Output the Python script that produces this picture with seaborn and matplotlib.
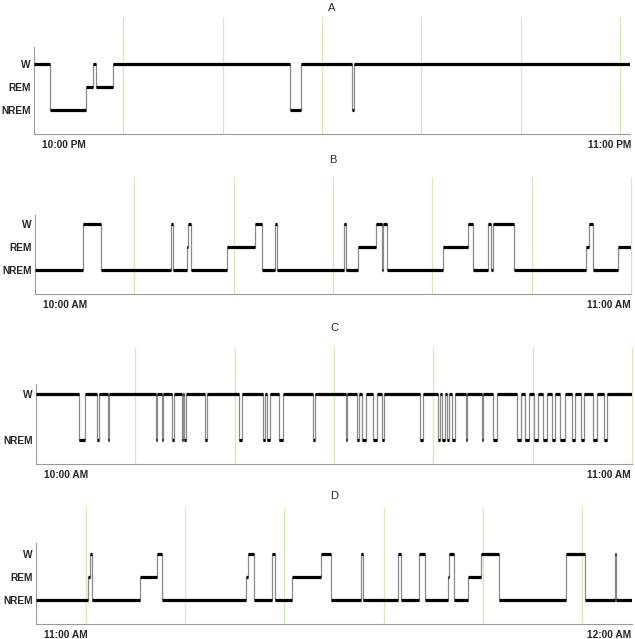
import numpy as np
import pandas as pd
import matplotlib
matplotlib.use("Agg")
import matplotlib.pyplot as plt
import seaborn as sns

# ============ DATA (minutes from panel start) ============
LEVEL = {"NREM": 0, "REM": 1, "W": 2}

a_times = [0, 1.61, 5.24, 5.94, 6.24, 7.96, 25.78, 26.89, 31.97, 32.17]
a_states = ["W", "NREM", "REM", "W", "REM", "W", "NREM", "W", "NREM", "W"]

b_times = [0, 4.86, 6.65, 13.67, 13.85, 15.28, 15.41, 15.68, 19.37, 22.16,
           22.83, 24.20, 24.37, 31.15, 31.27, 32.50, 34.31, 34.89, 35.02, 35.48,
           41.12, 43.58, 44.14, 45.65, 45.87, 46.15, 48.27, 55.46, 55.74, 56.16,
           58.68]
b_states = ["NREM", "W", "NREM", "W", "NREM", "REM", "W", "NREM", "REM", "W",
            "NREM", "W", "NREM", "W", "NREM", "REM", "W", "NREM", "W", "NREM",
            "REM", "W", "NREM", "W", "NREM", "W", "NREM", "REM", "W", "NREM",
            "REM"]

# panel C only switches between W and NREM: onset / offset of each NREM dip
c_dip_on = [4.33, 6.17, 7.28, 12.05, 12.66, 13.67, 14.67, 14.90, 17.02, 20.47,
            22.83, 23.23, 24.50, 27.87, 31.22, 32.30, 32.80, 33.97, 34.81, 38.67,
            40.51, 40.86, 41.36, 41.86, 43.30, 44.88, 46.05, 48.41, 49.24, 50.18,
            50.99, 51.93, 52.77, 53.95, 54.88, 56.12, 57.23]
c_dip_off = [4.93, 6.34, 7.38, 12.22, 12.82, 13.90, 14.80, 15.11, 17.19, 20.71,
             23.06, 23.57, 24.90, 28.10, 31.35, 32.56, 33.23, 34.31, 35.05, 39.00,
             40.68, 41.19, 41.59, 42.20, 43.43, 45.05, 46.39, 48.84, 49.65, 50.58,
             51.43, 52.27, 53.27, 54.28, 55.12, 56.46, 57.47]

d_times = [0, 5.27, 5.47, 5.59, 10.47, 12.15, 12.66, 21.12, 21.38, 21.98,
           23.74, 24.10, 25.78, 28.70, 29.71, 32.73, 32.93, 36.49, 36.71, 38.57,
           39.17, 41.52, 41.62, 42.07, 43.47, 44.81, 46.66, 53.34, 55.22, 58.31,
           58.41]
d_states = ["NREM", "REM", "W", "NREM", "REM", "W", "NREM", "REM", "W", "NREM",
            "W", "NREM", "REM", "W", "NREM", "W", "NREM", "W", "NREM", "W",
            "NREM", "REM", "W", "NREM", "REM", "W", "NREM", "W", "NREM", "W",
            "NREM"]

c_times = [0]
c_states = ["W"]
for on, off in zip(c_dip_on, c_dip_off):
    c_times += [on, off]
    c_states += ["NREM", "W"]

panel_titles = ["A", "B", "C", "D"]
start_labels = ["10:00 PM", "10:00 AM", "10:00 AM", "11:00 AM"]
end_labels = ["11:00 PM", "11:00 AM", "11:00 AM", "12:00 AM"]
grid_first = [9, 10, 10, 5]
tick_sets = [["NREM", "REM", "W"], ["NREM", "REM", "W"], ["NREM", "W"],
             ["NREM", "REM", "W"]]
panels = [(a_times, a_states), (b_times, b_states), (c_times, c_states),
          (d_times, d_states)]

# ============ LAYOUT (pixels) ============
W_PX, H_PX = 635, 639
ax_left = [34, 35, 36, 36]
ax_bottom = [134, 294, 464, 624]
ax_height = 117
ax_width = 596
spine_top = [2.75, 2.41, 2.46, 2.49]
title_y = [8, 160, 328, 496]
YLIM = (-1.04, 4.05)

sns.set_style("white")
plt.rcParams["font.family"] = ["Liberation Sans", "DejaVu Sans"]

fig = plt.figure(figsize=(W_PX / 100, H_PX / 100), dpi=100)

for i, (times, states) in enumerate(panels):
    ax = fig.add_axes([ax_left[i] / W_PX, 1 - ax_bottom[i] / H_PX,
                       ax_width / W_PX, ax_height / H_PX])
    df = pd.DataFrame({"t": list(times) + [60],
                       "level": [LEVEL[s] for s in states] + [LEVEL[states[-1]]]})

    # pale green 10-minute markers
    ax.vlines(np.arange(grid_first[i], 60.5, 10), YLIM[0], YLIM[1],
              color="#d6ecb4", lw=0.9, zorder=0, clip_on=False)

    # thin transitions + thick state segments
    sns.lineplot(data=df, x="t", y="level", drawstyle="steps-post",
                 estimator=None, sort=False, color="#8a8a8a", lw=0.9, ax=ax)
    ax.hlines(df["level"][:-1], df["t"][:-1], df["t"][1:].values,
              color="black", lw=2.3, zorder=3)

    ax.set_xlim(0, 60)
    ax.set_ylim(*YLIM)
    ax.set(xlabel="", ylabel="")
    ax.set_xticks([])
    ticks = tick_sets[i]
    ax.set_yticks([LEVEL[t] for t in ticks])
    ax.set_yticklabels(ticks, fontsize=7.3, fontweight="bold")
    ax.tick_params(axis="y", length=0, pad=2.5)

    for side in ["top", "right"]:
        ax.spines[side].set_visible(False)
    for side in ["left", "bottom"]:
        ax.spines[side].set_color("#9a9a9a")
        ax.spines[side].set_linewidth(0.8)
    ax.spines["left"].set_bounds(YLIM[0], spine_top[i])

    lab_y = 1 - (ax_bottom[i] + 11) / H_PX
    fig.text((ax_left[i] + 8) / W_PX, lab_y, start_labels[i], fontsize=7.3,
             fontweight="bold", ha="left", va="center")
    fig.text(631 / W_PX, lab_y, end_labels[i], fontsize=7.3,
             fontweight="bold", ha="right", va="center")
    fig.text((ax_left[i] + ax_width / 2) / W_PX, 1 - title_y[i] / H_PX,
             panel_titles[i], fontsize=8, ha="center", va="center")

fig.savefig("out.png", dpi=100)
